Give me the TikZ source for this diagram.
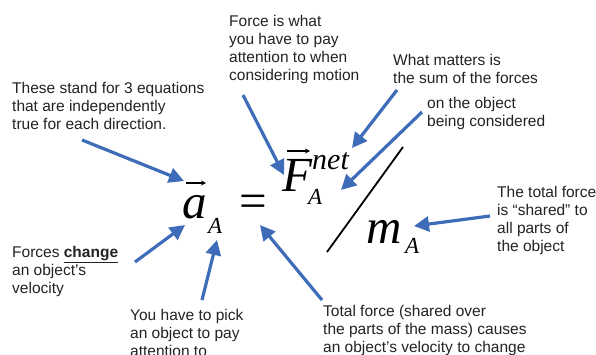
\documentclass[tikz,border=0pt]{standalone}
\usepackage{fontspec}
\setmainfont{Liberation Sans}
\newfontfamily\eqfont{Liberation Serif}
\usetikzlibrary{arrows.meta}
\definecolor{arrowblue}{RGB}{62,108,185}
\definecolor{notetext}{RGB}{35,35,35}
\begin{document}
\begin{tikzpicture}[x=1pt,y=-1pt,
  note/.style={anchor=north west,inner sep=0pt,align=left,text=notetext,font=\fontsize{15.5}{18}\selectfont},
  pointer/.style={draw=arrowblue,line width=3.2pt,-{Triangle[length=15pt,width=15pt,fill=arrowblue]}},
  eqbig/.style={anchor=base west,inner sep=0pt,font=\eqfont\itshape\fontsize{49}{49}\selectfont},
  eqsign/.style={anchor=base west,inner sep=0pt,font=\eqfont\fontsize{49}{49}\selectfont},
  eqsub/.style={anchor=base west,inner sep=0pt,font=\eqfont\itshape\fontsize{23}{23}\selectfont},
  eqsup/.style={anchor=base west,inner sep=0pt,font=\eqfont\itshape\fontsize{30}{30}\selectfont},
  vecarr/.style={line width=1.2pt,-{Stealth[length=5pt,width=5pt]}},
]
\fill[white] (0,0) rectangle (596,354);
\useasboundingbox (0,0) rectangle (596,354);

% notes
\node[note] (n1) at (12,82) {These stand for 3 equations\\that are independently\\true for each direction.};
\node[note] (n2) at (229,15) {Force is what\\you have to pay\\attention to when\\considering motion};
\node[note] (n3) at (393,54) {What matters is\\the sum of the forces};
\node[note] (n4) at (427,97) {on the object\\being considered};
\node[note] (n5) at (497,186) {The total force\\is ``shared'' to\\all parts of\\the object};
\node[note] (n6) at (323,305) {Total force (shared over\\the parts of the mass) causes\\an object's velocity to change};
\node[note] (n7) at (130,309) {You have to pick\\an object to pay\\attention to};
\node[note] (n8) at (12,246) {Forces \textbf{\underline{change}}\\an object's\\velocity};

% equation
\node[eqbig] (a) at (182,218) {a};
\node[eqsub] (aA) at (208,233) {A};
\node[eqsign] (eq) at (239,217) {=};
\node[eqbig] (F) at (282,191) {F};
\node[eqsup] (net) at (312,169) {net};
\node[eqsub] (FA) at (308,204) {A};
\node[eqbig] (m) at (366,243) {m};
\node[eqsub] (mA) at (405,253) {A};
\coordinate (sl1) at (327,252);
\coordinate (sl2) at (403,147);
\draw[line width=1.8pt] (sl1) -- (sl2);
\coordinate (av1) at (186,183);
\coordinate (av2) at (206,183);
\draw[vecarr] (av1) -- (av2);
\coordinate (fv1) at (287,151);
\coordinate (fv2) at (310,151);
\draw[vecarr] (fv1) -- (fv2);

% connectors
\coordinate (s1) at (82,140);  \coordinate (e1) at (184,181);
\coordinate (s2) at (243,95);  \coordinate (e2) at (284,175);
\coordinate (s3) at (397,90);  \coordinate (e3) at (352,148);
\coordinate (s4) at (422,112); \coordinate (e4) at (341,190);
\coordinate (s5) at (490,216); \coordinate (e5) at (414,226);
\coordinate (s6) at (322,300); \coordinate (e6) at (260,225);
\coordinate (s7) at (202,300); \coordinate (e7) at (217,240);
\coordinate (s8) at (135,262); \coordinate (e8) at (185,225);
\foreach \i in {1,...,8} {\draw[pointer] (s\i) -- (e\i);}
\end{tikzpicture}
\end{document}
